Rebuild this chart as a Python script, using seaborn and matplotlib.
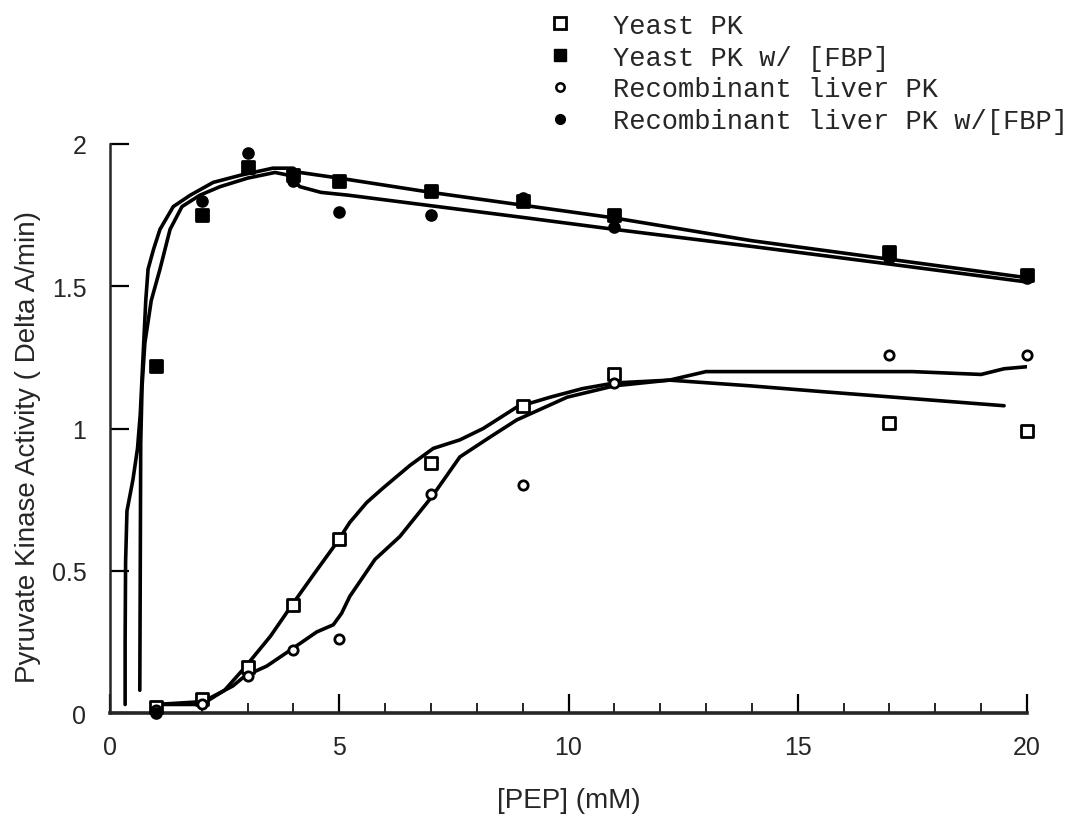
import numpy as np
import pandas as pd
import seaborn as sns
import matplotlib.pyplot as plt
from matplotlib.lines import Line2D
from matplotlib.ticker import MultipleLocator

# Measured points
pep = [1, 2, 3, 4, 5, 7, 9, 11, 17, 20]
yeast_pk = [0.02, 0.05, 0.16, 0.38, 0.61, 0.88, 1.08, 1.19, 1.02, 0.99]
yeast_pk_fbp = [1.22, 1.75, 1.92, 1.89, 1.87, 1.835, 1.80, 1.75, 1.62, 1.54]
liver_pk = [0.01, 0.03, 0.13, 0.22, 0.26, 0.77, 0.80, 1.16, 1.26, 1.26]
liver_pk_fbp = [0.0, 1.80, 1.97, 1.87, 1.76, 1.75, 1.81, 1.71, 1.60, 1.53]

# Fitted curves
fit1_x = [0.33, 0.33, 0.34, 0.37, 0.50, 0.60, 0.66, 0.72, 0.78, 0.83, 0.95, 1.09, 1.38,
          1.75, 2.25, 2.84, 3.55, 4.0, 4.14, 5.0, 7.0, 9.0, 11.0, 14.0, 17.0, 20.0]
fit1_y = [0.03, 0.25, 0.53, 0.71, 0.82, 0.93, 1.05, 1.25, 1.45, 1.56, 1.63, 1.70, 1.78,
          1.82, 1.865, 1.89, 1.915, 1.915, 1.90, 1.88, 1.83, 1.785, 1.74, 1.66, 1.595, 1.53]
fit2_x = [0.65, 0.66, 0.67, 0.70, 0.76, 0.90, 1.09, 1.31, 1.57, 1.96, 2.4, 3.0, 3.6,
          3.9, 4.14, 4.6, 5.2, 7.0, 9.0, 11.0, 14.0, 17.0, 20.0]
fit2_y = [0.08, 0.50, 0.95, 1.15, 1.30, 1.45, 1.56, 1.70, 1.78, 1.82, 1.85, 1.88, 1.90,
          1.89, 1.85, 1.83, 1.82, 1.783, 1.742, 1.70, 1.64, 1.578, 1.515]
fit3_x = [1.0, 2.0, 2.5, 2.94, 3.5, 3.97, 4.5, 4.95, 5.23, 5.6, 5.95, 6.54, 7.05, 7.63,
          8.14, 8.87, 9.6, 10.3, 11.0, 12.2, 13.96, 15.5, 19.5]
fit3_y = [0.03, 0.03, 0.08, 0.16, 0.27, 0.38, 0.50, 0.60, 0.67, 0.74, 0.79, 0.87, 0.93,
          0.96, 1.00, 1.075, 1.11, 1.14, 1.16, 1.17, 1.15, 1.13, 1.08]
fit4_x = [1.0, 2.03, 2.68, 2.94, 3.42, 3.97, 4.51, 4.87, 5.05, 5.23, 5.78, 6.32, 7.02,
          7.63, 8.29, 8.87, 9.97, 11.0, 12.2, 13.0, 15.0, 16.5, 17.5, 19.0, 19.5, 20.2]
fit4_y = [0.03, 0.04, 0.095, 0.13, 0.165, 0.225, 0.285, 0.31, 0.35, 0.41, 0.54, 0.62,
          0.76, 0.90, 0.97, 1.03, 1.11, 1.15, 1.17, 1.20, 1.20, 1.20, 1.20, 1.19, 1.21, 1.22]

labels = ["Yeast PK", "Yeast PK w/ [FBP]", "Recombinant liver PK",
          "Recombinant liver PK w/[FBP]"]

sns.set_style("ticks")
plt.rcParams['font.family'] = ['Liberation Sans', 'DejaVu Sans']

fig = plt.figure(figsize=(10.75, 8.29), dpi=100)
ax = fig.add_axes([110 / 1075, 1 - 714 / 829, 917 / 1075, 569 / 829])

# fitted curves
for fx, fy in [(fit1_x, fit1_y), (fit2_x, fit2_y), (fit3_x, fit3_y), (fit4_x, fit4_y)]:
    sns.lineplot(x=fx, y=fy, sort=False, estimator=None, color="black",
                 linewidth=2.6, ax=ax)

# data points
styles = [
    (yeast_pk, "s", "white", 85),
    (yeast_pk_fbp, "s", "black", 85),
    (liver_pk, "o", "white", 45),
    (liver_pk_fbp, "o", "black", 50),
]
for vals, mk, fc, sz in styles:
    sns.scatterplot(x=pep, y=vals, marker=mk, s=sz, facecolor=fc, edgecolor="black",
                    linewidth=2.0, zorder=5, clip_on=False, ax=ax)

ax.set_xlim(0, 20)
ax.set_ylim(0, 2)
ax.set_xticks([0, 5, 10, 15, 20])
ax.set_yticks([0, 0.5, 1, 1.5, 2])
ax.set_yticklabels(["0", "0.5", "1", "1.5", "2"])
ax.xaxis.set_minor_locator(MultipleLocator(1))
ax.tick_params(axis="both", which="major", direction="in", length=14, width=1.6,
               labelsize=18, color="black")
ax.tick_params(axis="x", which="major", pad=16)
ax.tick_params(axis="y", which="major", pad=17)
ax.tick_params(axis="x", which="minor", direction="in", length=7, width=1.4)

sns.despine(ax=ax)
ax.spines["left"].set_linewidth(1.8)
ax.spines["bottom"].set_linewidth(2.6)

ax.set_xlabel("[PEP] (mM)", fontsize=20)
ax.set_ylabel("Pyruvate Kinase Activity ( Delta A/min)", fontsize=20)
ax.xaxis.set_label_coords(0.5, -0.13)
ax.yaxis.set_label_coords(-0.075, 0.47)

handles = [
    Line2D([], [], linestyle="none", marker="s", markersize=8, markerfacecolor="white",
           markeredgecolor="black", markeredgewidth=2),
    Line2D([], [], linestyle="none", marker="s", markersize=9, markerfacecolor="black",
           markeredgecolor="black"),
    Line2D([], [], linestyle="none", marker="o", markersize=6, markerfacecolor="white",
           markeredgecolor="black", markeredgewidth=1.8),
    Line2D([], [], linestyle="none", marker="o", markersize=7, markerfacecolor="black",
           markeredgecolor="black"),
]
leg = ax.legend(handles, labels, loc="upper left", bbox_to_anchor=(533 / 1075, 1.0),
                bbox_transform=fig.transFigure, frameon=False, borderpad=0,
                handlelength=1.0, handletextpad=1.46, labelspacing=0.22,
                prop={"family": "Liberation Mono", "size": 19.5})

fig.savefig("out.png", dpi=100)
